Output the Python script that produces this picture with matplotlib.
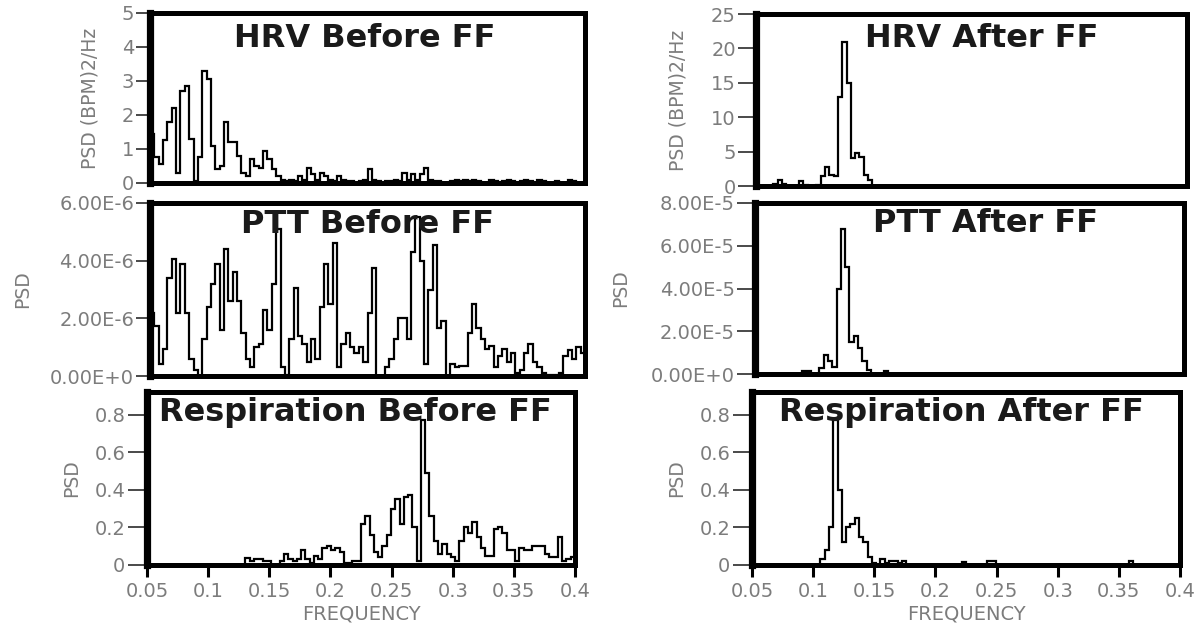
import numpy as np
import matplotlib
matplotlib.use("Agg")
import matplotlib.pyplot as plt
from matplotlib.ticker import FixedLocator, FixedFormatter

# ---------------- data ----------------
FREQ_MIN, FREQ_MAX = 0.05, 0.40
N_BINS = 100

hrv_before = [1.45, 0.75, 0.55, 1.25, 1.8, 2.2, 0.3, 2.7, 2.85, 1.3,
              0.05, 0.75, 3.3, 3.05, 1.1, 0.4, 0.5, 1.8, 1.2, 1.2,
              0.8, 0.3, 0.2, 0.7, 0.5, 0.45, 0.95, 0.7, 0.4, 0.2,
              0.1, 0.05, 0.1, 0.05, 0.2, 0.1, 0.45, 0.25, 0.1, 0.3,
              0.2, 0.1, 0.05, 0.2, 0.1, 0.05, 0.05, 0.0, 0.05, 0.1,
              0.4, 0.1, 0.05, 0.0, 0.05, 0.05, 0.1, 0.05, 0.3, 0.1,
              0.25, 0.1, 0.25, 0.45, 0.1, 0.05, 0.05, 0.0, 0.0, 0.05,
              0.1, 0.05, 0.1, 0.05, 0.1, 0.05, 0.0, 0.0, 0.1, 0.05,
              0.0, 0.05, 0.1, 0.05, 0.0, 0.05, 0.1, 0.05, 0.0, 0.1,
              0.05, 0.0, 0.0, 0.05, 0.0, 0.0, 0.1, 0.05, 0.0, 0.0]

hrv_after = [0, 0, 0, 0, 0.3, 0.9, 0.3, 0, 0, 0,
             0.7, 0.1, 0, 0, 0.2, 1.5, 2.8, 1.6, 1.5, 13,
             21, 15, 4.0, 4.8, 4.2, 1.6, 0.8, 0, 0, 0] + [0] * 70

ptt_before_e6 = [2.2, 1.75, 0.4, 0.95, 3.4, 4.05, 2.2, 3.9, 2.2, 0.6,
                 0.2, 0.0, 1.3, 2.4, 3.2, 3.9, 1.6, 4.4, 2.6, 3.6,
                 2.6, 1.5, 0.6, 0.3, 1.0, 1.1, 2.3, 1.6, 3.2, 5.1,
                 0.3, 0.05, 1.3, 3.05, 1.4, 1.1, 0.5, 1.3, 0.6, 2.4,
                 3.9, 2.5, 4.6, 0.3, 1.1, 1.5, 1.0, 0.8, 1.0, 0.5,
                 2.2, 3.75, 0.0, 0.0, 0.3, 0.6, 1.3, 2.0, 2.0, 1.3,
                 4.3, 5.5, 4.0, 0.4, 3.0, 4.55, 1.65, 1.9, 0.0, 0.4,
                 0.3, 0.35, 0.35, 1.5, 2.5, 1.65, 1.3, 0.95, 1.05, 0.3,
                 0.7, 0.95, 0.5, 0.8, 0.1, 0.2, 0.8, 1.1, 0.5, 0.3,
                 0.1, 0.05, 0.05, 0.05, 0.1, 0.7, 0.9, 0.6, 1.0, 0.8]

ptt_after_e5 = [0] * 11 + [0.15, 0.15, 0, 0, 0.3, 0.9, 0.6, 0.35, 4.0,
                           6.8, 5.0, 1.5, 1.8, 1.2, 0.6, 0.2, 0, 0, 0,
                           0.15] + [0] * 69

resp_before = [0] * 23 + [0.035, 0.02, 0.03, 0.03, 0.02, 0.02, 0.0,
                          0.0, 0.02, 0.06, 0.03, 0.02, 0.03, 0.08, 0.03, 0.01, 0.05,
                          0.03, 0.09, 0.1, 0.08, 0.09, 0.07, 0.01, 0.01, 0.02, 0.02,
                          0.22, 0.26, 0.16, 0.07, 0.04, 0.1, 0.16, 0.3, 0.35, 0.22,
                          0.36, 0.37, 0.2, 0.02, 0.77, 0.49, 0.26, 0.13, 0.06, 0.11,
                          0.06, 0.04, 0.02, 0.13, 0.2, 0.17, 0.23, 0.15, 0.09, 0.05,
                          0.05, 0.19, 0.2, 0.17, 0.08, 0.08, 0.02, 0.09, 0.08, 0.08,
                          0.1, 0.1, 0.1, 0.06, 0.04, 0.04, 0.15, 0.02, 0.03, 0.04]

resp_after = ([0] * 16 +
              [0.03, 0.08, 0.2, 0.77, 0.4, 0.12, 0.2, 0.22, 0.25, 0.15,
               0.12, 0.04, 0.01, 0.0,
               0.03, 0.01, 0.02, 0.02, 0.01, 0.02, 0, 0, 0, 0,
               0, 0, 0, 0, 0, 0, 0, 0, 0, 0.015,
               0, 0, 0, 0, 0, 0.02, 0.02, 0, 0, 0] +
              [0] * 28 + [0.02] + [0] * 11)

titles = ["HRV Before FF", "HRV After FF", "PTT Before FF", "PTT After FF",
          "Respiration Before FF", "Respiration After FF"]
ylabels = ["PSD (BPM)2/Hz", "PSD (BPM)2/Hz", "PSD", "PSD", "PSD", "PSD"]

hrv_before_ticks = [0, 1, 2, 3, 4, 5]
hrv_before_labels = ["0", "1", "2", "3", "4", "5"]
hrv_after_ticks = [0, 5, 10, 15, 20, 25]
hrv_after_labels = ["0", "5", "10", "15", "20", "25"]
ptt_before_ticks = [0, 2e-6, 4e-6, 6e-6]
ptt_before_labels = ["0.00E+0", "2.00E-6", "4.00E-6", "6.00E-6"]
ptt_after_ticks = [0, 2e-5, 4e-5, 6e-5, 8e-5]
ptt_after_labels = ["0.00E+0", "2.00E-5", "4.00E-5", "6.00E-5", "8.00E-5"]
resp_ticks = [0, 0.2, 0.4, 0.6, 0.8]
resp_labels = ["0", "0.2", "0.4", "0.6", "0.8"]
freq_ticks = [0.05, 0.1, 0.15, 0.2, 0.25, 0.3, 0.35, 0.4]
freq_labels = ["0.05", "0.1", "0.15", "0.2", "0.25", "0.3", "0.35", "0.4"]

# ---------------- layout ----------------
W, H = 1194, 623
fig = plt.figure(figsize=(W / 100, H / 100), dpi=100)


def pos(x0, x1, y0, y1):
    return [x0 / W, 1 - y1 / H, (x1 - x0) / W, (y1 - y0) / H]


edges = np.linspace(FREQ_MIN, FREQ_MAX, N_BINS + 1)

panels = [
    dict(rect=pos(150, 585, 13, 183), data=np.array(hrv_before), ylim=(0, 5),
         ticks=hrv_before_ticks, labels=hrv_before_labels, tpos=(0.494, 0.848),
         ylab_x=-0.115, tlen=10, bottom=False),
    dict(rect=pos(756, 1187, 14, 186), data=np.array(hrv_after), ylim=(0, 25),
         ticks=hrv_after_ticks, labels=hrv_after_labels, tpos=(0.524, 0.858),
         ylab_x=-0.16, tlen=13, bottom=False),
    dict(rect=pos(150, 585, 203, 376), data=np.array(ptt_before_e6) * 1e-6,
         ylim=(0, 6e-6), ticks=ptt_before_ticks, labels=ptt_before_labels,
         tpos=(0.499, 0.874), ylab_x=-0.27, tlen=10, bottom=False),
    dict(rect=pos(755, 1184, 203, 374), data=np.array(ptt_after_e5) * 1e-5,
         ylim=(0, 8e-5), ticks=ptt_after_ticks, labels=ptt_after_labels,
         tpos=(0.537, 0.878), ylab_x=-0.29, tlen=13, bottom=False),
    dict(rect=pos(147, 575, 392, 565), data=np.array(resp_before), ylim=(0, 0.92),
         ticks=resp_ticks, labels=resp_labels, tpos=(0.486, 0.88),
         ylab_x=-0.155, tlen=14, bottom=True),
    dict(rect=pos(752, 1180, 392, 565), data=np.array(resp_after), ylim=(0, 0.92),
         ticks=resp_ticks, labels=resp_labels, tpos=(0.49, 0.88),
         ylab_x=-0.155, tlen=14, bottom=True),
]

label_gray = "#7c7c7c"
tick_dark = "#3a3a3a"

for p, title, ylab in zip(panels, titles, ylabels):
    ax = fig.add_axes(p["rect"])
    ax.stairs(p["data"], edges, baseline=0, color="black", linewidth=1.6)
    ax.set_xlim(FREQ_MIN, FREQ_MAX)
    ax.set_ylim(*p["ylim"])
    for side, sp in ax.spines.items():
        sp.set_color("black")
        sp.set_linewidth(5.2 if side == "left" else 3.6)
    ax.yaxis.set_major_locator(FixedLocator(p["ticks"]))
    ax.yaxis.set_major_formatter(FixedFormatter(p["labels"]))
    ax.tick_params(axis="y", direction="out", length=p["tlen"], width=1.3,
                   color=tick_dark, labelcolor=label_gray, labelsize=14, pad=1.5)
    if p["bottom"]:
        ax.xaxis.set_major_locator(FixedLocator(freq_ticks))
        ax.xaxis.set_major_formatter(FixedFormatter(freq_labels))
        ax.tick_params(axis="x", direction="out", length=8.5, width=2.2,
                       color="black", labelcolor=label_gray, labelsize=14, pad=4)
        ax.set_xlabel("FREQUENCY", color=label_gray, fontsize=14, labelpad=2)
    else:
        ax.set_xticks([])
    ax.set_ylabel(ylab, color=label_gray, fontsize=13.5)
    ax.yaxis.set_label_coords(p["ylab_x"], 0.5)
    ax.text(p["tpos"][0], p["tpos"][1], title, transform=ax.transAxes,
            ha="center", va="center", fontsize=23, fontweight="bold",
            color="#1a1a1a", zorder=5)

fig.savefig("out.png", dpi=100, facecolor="white")
